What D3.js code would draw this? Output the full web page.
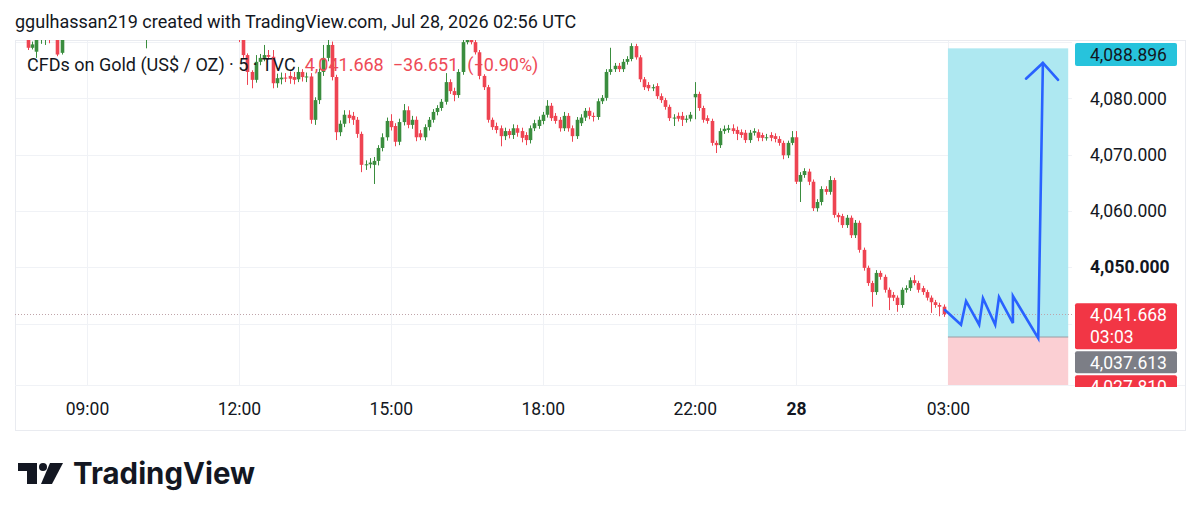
<!DOCTYPE html>
<html>
<head>
<meta charset="utf-8">
<script src="https://cdn.jsdelivr.net/npm/d3@7.9.0/dist/d3.min.js"></script>
<style>
  html, body { margin: 0; padding: 0; background: #ffffff; }
  svg { display: block; font-family: Roboto, 'Noto Sans', sans-serif; }
</style>
</head>
<body>
<svg id="chart" width="1199" height="520"></svg>
<script>
// CFDs on Gold, 5 minute candles, 07:35 -> 02:55 UTC (one hour break 21:00-22:00)
const sessions = [['07:35', 161], ['22:00', 90]]; // start, number of 5m slots (2nd runs into the future)

const opens = [
  4092.4, 4091.8, 4091.3, 4090.9, 4089.0, 4088.3, 4091.2, 4091.5, 4091.9, 4090.8,
  4091.2, 4088.1, 4091.5, 4092.6, 4093.8, 4094.6, 4095.4, 4094.9, 4094.1, 4094.7,
  4096.1, 4096.8, 4096.3, 4095.2, 4094.6, 4093.7, 4094.0, 4093.3, 4092.4, 4092.9,
  4092.0, 4091.4, 4091.8, 4093.1, 4094.2, 4094.9, 4095.7, 4095.3, 4094.8, 4095.5,
  4096.6, 4097.2, 4096.8, 4096.0, 4095.6, 4095.1, 4094.3, 4094.8, 4094.4, 4093.6,
  4093.9, 4093.2, 4092.4, 4092.7, 4090.6, 4087.7, 4084.7, 4083.3, 4086.5, 4087.2,
  4087.7, 4087.4, 4082.7, 4083.4, 4083.7, 4084.0, 4083.8, 4083.4, 4084.7, 4083.8,
  4083.9, 4076.2, 4079.7, 4084.7, 4087.2, 4089.5, 4083.8, 4074.0, 4075.5, 4077.1,
  4076.9, 4076.2, 4073.7, 4068.2, 4068.3, 4068.2, 4068.9, 4071.2, 4073.1, 4076.0,
  4075.1, 4072.3, 4075.8, 4077.9, 4075.3, 4076.2, 4073.8, 4073.1, 4074.9, 4076.2,
  4077.6, 4078.3, 4079.4, 4082.9, 4081.3, 4080.6, 4084.7, 4090.0, 4092.6, 4090.0,
  4088.2, 4084.0, 4082.0, 4076.2, 4075.1, 4074.7, 4073.3, 4074.2, 4073.5, 4074.7,
  4074.2, 4073.5, 4072.6, 4074.7, 4075.1, 4076.0, 4077.1, 4078.7, 4076.9, 4076.2,
  4074.7, 4076.9, 4074.7, 4073.3, 4075.6, 4076.6, 4077.8, 4076.9, 4076.7, 4079.5,
  4080.1, 4084.7, 4085.2, 4085.8, 4085.2, 4086.5, 4087.0, 4089.3, 4087.3, 4083.4,
  4082.4, 4081.8, 4082.2, 4080.4, 4079.7, 4078.5, 4076.5, 4076.9, 4076.9, 4076.2,
  4076.4, 4080.2, 4080.8, 4078.3, 4076.5, 4076.0, 4072.1, 4071.7, 4074.2, 4074.4,
  4074.7, 4074.4, 4074.0, 4073.9, 4072.6, 4073.9, 4074.0, 4073.5, 4073.0, 4073.5,
  4073.3, 4072.8, 4072.1, 4069.9, 4072.1, 4073.1, 4065.2, 4066.4, 4067.0, 4065.2,
  4060.5, 4061.6, 4063.9, 4063.4, 4065.5, 4059.3, 4059.1, 4057.5, 4058.8, 4055.7,
  4057.9, 4053.1, 4049.9, 4047.2, 4045.6, 4049.0, 4048.3, 4046.0, 4045.1, 4044.6,
  4043.3, 4046.0, 4046.3, 4047.7, 4047.2, 4046.3, 4045.6, 4044.6, 4043.8, 4043.3,
  4043.0
];
const highs = [
  4093.6, 4092.9, 4091.9, 4091.4, 4090.1, 4091.6, 4092.0, 4092.4, 4092.6, 4091.7,
  4091.6, 4091.9, 4093.0, 4094.2, 4095.1, 4096.0, 4096.3, 4095.8, 4095.0, 4096.6,
  4097.4, 4097.9, 4096.9, 4095.9, 4095.3, 4094.5, 4094.8, 4093.9, 4093.4, 4093.6,
  4092.8, 4092.3, 4093.5, 4094.6, 4095.3, 4096.2, 4096.6, 4096.0, 4095.9, 4097.0,
  4097.8, 4098.1, 4097.4, 4096.8, 4096.4, 4095.7, 4095.2, 4095.6, 4095.0, 4094.3,
  4094.6, 4093.8, 4093.2, 4093.4, 4090.8, 4088.0, 4085.0, 4087.7, 4087.9, 4089.5,
  4088.6, 4088.6, 4084.4, 4084.6, 4084.5, 4084.8, 4084.7, 4085.6, 4085.2, 4084.6,
  4084.5, 4080.2, 4085.3, 4089.5, 4090.8, 4090.1, 4084.2, 4076.1, 4077.9, 4077.9,
  4077.6, 4076.7, 4074.1, 4069.0, 4069.4, 4069.6, 4071.7, 4073.8, 4076.6, 4077.2,
  4075.6, 4076.4, 4079.0, 4078.6, 4076.9, 4076.8, 4074.4, 4075.4, 4076.7, 4078.1,
  4078.8, 4079.9, 4084.5, 4083.4, 4081.9, 4085.2, 4091.2, 4093.5, 4093.0, 4090.6,
  4088.6, 4084.3, 4082.4, 4076.6, 4075.7, 4075.2, 4074.8, 4074.6, 4075.4, 4075.3,
  4074.8, 4074.0, 4075.2, 4076.2, 4076.8, 4077.6, 4079.7, 4079.2, 4077.4, 4076.7,
  4077.6, 4077.4, 4075.2, 4076.7, 4077.2, 4078.3, 4078.4, 4077.5, 4080.0, 4080.6,
  4085.2, 4089.0, 4086.3, 4086.3, 4087.0, 4087.5, 4089.8, 4089.7, 4087.7, 4083.8,
  4082.9, 4082.5, 4082.7, 4080.9, 4080.1, 4078.9, 4077.2, 4077.5, 4077.6, 4077.0,
  4077.6, 4082.9, 4081.2, 4078.7, 4077.0, 4076.4, 4072.5, 4074.7, 4075.2, 4075.3,
  4075.4, 4075.0, 4074.5, 4074.4, 4074.4, 4074.7, 4074.5, 4073.9, 4073.7, 4074.0,
  4073.8, 4073.3, 4072.5, 4072.5, 4074.2, 4074.2, 4066.9, 4067.6, 4067.5, 4065.6,
  4062.1, 4064.4, 4064.4, 4066.2, 4065.9, 4059.7, 4059.5, 4059.3, 4059.2, 4058.4,
  4058.3, 4053.5, 4050.3, 4047.6, 4049.5, 4049.4, 4048.7, 4046.4, 4045.6, 4045.0,
  4046.4, 4046.8, 4048.2, 4048.6, 4047.6, 4046.7, 4046.0, 4045.0, 4044.2, 4043.7,
  4043.4
];
const lows = [
  4091.2, 4090.9, 4090.4, 4088.6, 4088.7, 4087.2, 4089.7, 4089.5, 4089.8, 4090.4,
  4087.5, 4087.8, 4091.0, 4092.1, 4093.2, 4094.0, 4094.5, 4093.6, 4093.3, 4094.3,
  4095.6, 4095.9, 4094.8, 4094.1, 4093.2, 4092.6, 4092.9, 4091.8, 4091.7, 4091.6,
  4090.9, 4088.9, 4091.3, 4092.7, 4093.6, 4094.4, 4094.9, 4094.3, 4094.2, 4095.0,
  4096.0, 4096.3, 4095.6, 4095.1, 4094.6, 4093.9, 4093.6, 4094.0, 4093.2, 4092.8,
  4092.9, 4091.9, 4091.6, 4090.0, 4087.2, 4082.4, 4081.8, 4082.8, 4085.9, 4086.6,
  4086.9, 4081.8, 4081.9, 4082.5, 4082.9, 4082.6, 4082.5, 4082.9, 4083.0, 4082.9,
  4075.5, 4075.3, 4079.0, 4084.0, 4086.6, 4083.2, 4072.6, 4073.3, 4074.9, 4075.6,
  4075.3, 4073.0, 4066.9, 4067.3, 4067.6, 4064.8, 4068.1, 4070.6, 4072.5, 4074.3,
  4071.5, 4071.7, 4075.2, 4074.7, 4074.6, 4072.4, 4072.6, 4072.5, 4074.3, 4075.7,
  4077.0, 4077.8, 4078.9, 4080.8, 4079.5, 4080.1, 4084.2, 4089.6, 4089.6, 4087.8,
  4083.4, 4081.5, 4075.7, 4074.4, 4073.8, 4071.5, 4072.6, 4072.9, 4072.8, 4073.2,
  4072.2, 4071.7, 4072.0, 4074.2, 4074.6, 4075.4, 4076.6, 4076.0, 4075.5, 4074.1,
  4074.2, 4074.1, 4072.3, 4072.8, 4075.1, 4076.0, 4076.3, 4075.9, 4076.2, 4079.0,
  4079.6, 4084.2, 4084.7, 4084.7, 4084.7, 4086.0, 4086.6, 4086.9, 4082.9, 4081.5,
  4081.3, 4081.3, 4079.9, 4079.2, 4078.0, 4076.0, 4075.1, 4075.9, 4075.1, 4075.7,
  4075.9, 4076.3, 4077.8, 4075.7, 4075.5, 4071.6, 4070.3, 4071.2, 4073.7, 4073.9,
  4073.7, 4072.6, 4073.0, 4072.1, 4072.1, 4073.4, 4072.4, 4072.4, 4072.5, 4072.4,
  4072.2, 4071.6, 4069.2, 4069.4, 4071.7, 4064.8, 4061.6, 4065.9, 4064.6, 4060.0,
  4059.9, 4061.0, 4062.9, 4062.9, 4058.8, 4058.0, 4057.0, 4057.0, 4055.2, 4055.2,
  4052.6, 4049.4, 4046.7, 4043.0, 4045.1, 4047.8, 4045.5, 4042.4, 4044.0, 4042.1,
  4042.8, 4045.5, 4045.8, 4046.8, 4045.5, 4045.1, 4044.1, 4041.9, 4042.8, 4041.3,
  4041.2
];
const closes = [
  4091.8, 4091.3, 4090.9, 4089.0, 4089.6, 4091.2, 4091.5, 4091.9, 4090.8, 4091.2,
  4087.8, 4091.5, 4092.6, 4093.8, 4094.6, 4095.4, 4094.9, 4094.1, 4094.7, 4096.1,
  4096.8, 4096.3, 4095.2, 4094.6, 4093.7, 4094.0, 4093.3, 4092.4, 4092.9, 4092.0,
  4091.4, 4091.8, 4093.1, 4094.2, 4094.9, 4095.7, 4095.3, 4094.8, 4095.5, 4096.6,
  4097.2, 4096.8, 4096.0, 4095.6, 4095.1, 4094.3, 4094.8, 4094.4, 4093.6, 4093.9,
  4093.2, 4092.4, 4092.7, 4090.6, 4087.7, 4084.7, 4083.3, 4086.5, 4087.2, 4087.7,
  4087.4, 4082.7, 4083.6, 4083.7, 4083.6, 4083.5, 4083.3, 4084.7, 4083.8, 4083.9,
  4076.2, 4079.7, 4084.7, 4087.2, 4089.5, 4083.8, 4074.0, 4075.5, 4077.1, 4076.5,
  4076.2, 4073.7, 4068.2, 4068.3, 4068.6, 4068.9, 4071.2, 4073.1, 4076.0, 4074.9,
  4072.3, 4075.8, 4077.9, 4075.3, 4076.2, 4073.1, 4073.1, 4074.9, 4076.2, 4077.6,
  4078.3, 4079.4, 4082.9, 4081.3, 4080.6, 4084.7, 4090.0, 4092.6, 4090.0, 4088.2,
  4084.0, 4082.0, 4076.2, 4074.9, 4074.4, 4073.3, 4074.2, 4073.5, 4074.7, 4073.9,
  4073.0, 4072.6, 4074.7, 4075.6, 4076.2, 4077.1, 4078.7, 4076.5, 4076.0, 4074.7,
  4076.9, 4074.7, 4073.3, 4076.2, 4076.6, 4077.8, 4076.9, 4076.7, 4079.5, 4080.1,
  4084.7, 4085.2, 4085.8, 4085.2, 4086.5, 4087.0, 4089.3, 4087.3, 4083.4, 4082.0,
  4081.8, 4082.0, 4080.4, 4079.7, 4078.5, 4076.5, 4076.6, 4076.4, 4076.2, 4076.4,
  4077.1, 4080.8, 4078.3, 4076.2, 4076.0, 4072.1, 4071.7, 4074.2, 4074.6, 4074.7,
  4074.2, 4073.7, 4073.5, 4072.6, 4073.9, 4074.2, 4073.0, 4073.0, 4073.1, 4073.0,
  4072.8, 4072.1, 4069.9, 4072.1, 4073.1, 4065.2, 4066.4, 4067.1, 4065.2, 4060.5,
  4061.6, 4063.9, 4063.4, 4065.5, 4059.3, 4058.9, 4057.5, 4058.8, 4055.7, 4057.9,
  4053.1, 4049.9, 4047.2, 4045.6, 4049.0, 4048.3, 4046.0, 4044.6, 4044.6, 4043.3,
  4046.0, 4046.3, 4047.7, 4047.2, 4046.0, 4045.6, 4044.6, 4043.8, 4043.3, 4043.0,
  4041.668
];

const priceGrid = [4090, 4080, 4070, 4060, 4050, 4040];
const priceLabels = [4080, 4070, 4060, 4050];
const tickTimes = ['09:00', '12:00', '15:00', '18:00', '22:00', '00:00', '03:00'];
const tickLabels = ['09:00', '12:00', '15:00', '18:00', '22:00', '28', '03:00'];

const lastPrice = 4041.668;
const change = -36.651;
const changePct = -0.90;
const countdown = '03:03';

// long position tool
const entry = 4037.613, target = 4088.896, stop = 4027.810;
const positionBars = [221, 249.5];
// hand drawn forecast, [bar, price]
const forecast = [[220.3, 4042.4], [224.1, 4039.8], [225.3, 4044.0], [228.4, 4039.8], [229.3, 4044.5],
  [232.2, 4039.8], [233.1, 4044.7], [236.4, 4040.1], [236.4, 4044.9], [242.4, 4037.4], [243.5, 4086.3]];
const arrowHead = [[239.5, 4083.5], [243.5, 4086.3], [247.1, 4083.3]];

// ---------------------------------------------------------------
const pane = { left: 15, right: 1072, top: 40, bottom: 385 };
const frame = { right: 1185, bottom: 430 };
const upColor = '#3a8d3e', downColor = '#ee4452';
const textColor = '#131722';

const svg = d3.select('#chart');

const x = d3.scaleLinear().domain([-0.06, 250.4]).range([pane.left, pane.right]);
const y = d3.scaleLinear().domain([4029.09, 4090.38]).range([pane.bottom, pane.top]);

// time of every 5m slot
const pad2 = d3.format('02');
const slotTimes = [];
sessions.forEach(([start, n]) => {
  const [h, m] = start.split(':').map(Number);
  for (let k = 0; k < n; k++) {
    const t = (h * 60 + m + 5 * k) % 1440;
    slotTimes.push(pad2(Math.floor(t / 60)) + ':' + pad2(t % 60));
  }
});
const tickIdx = tickTimes.map(t => slotTimes.indexOf(t));

const candles = opens.map((o, i) => ({
  i, time: slotTimes[i], o, h: highs[i], l: lows[i], c: closes[i]
}));

// header
svg.append('text')
  .attr('x', 15).attr('y', 28)
  .attr('font-size', 18).attr('fill', textColor)
  .text('ggulhassan219 created with TradingView.com, Jul 28, 2026 02:56 UTC');

// clip paths
const defs = svg.append('defs');
defs.append('clipPath').attr('id', 'pane-clip')
  .append('rect')
    .attr('x', pane.left).attr('y', pane.top)
    .attr('width', pane.right - pane.left).attr('height', pane.bottom - pane.top);
defs.append('clipPath').attr('id', 'axis-clip')
  .append('rect')
    .attr('x', pane.right).attr('y', pane.top)
    .attr('width', frame.right - pane.right).attr('height', pane.bottom - pane.top + 2);

// grid
const grid = svg.append('g').attr('stroke', '#f0f2f6').attr('stroke-width', 1);
grid.selectAll('line.h').data(priceGrid).join('line')
  .attr('x1', pane.left).attr('x2', pane.right)
  .attr('y1', d => Math.round(y(d)) + 0.5).attr('y2', d => Math.round(y(d)) + 0.5);
grid.selectAll('line.v').data(tickIdx).join('line')
  .attr('y1', pane.top).attr('y2', pane.bottom)
  .attr('x1', d => Math.round(x(d)) + 0.5).attr('x2', d => Math.round(x(d)) + 0.5);

// frame
svg.append('rect')
  .attr('x', pane.left + 0.5).attr('y', pane.top + 0.5)
  .attr('width', frame.right - pane.left).attr('height', frame.bottom - pane.top)
  .attr('fill', 'none').attr('stroke', '#e9ebf0');
svg.append('line')
  .attr('x1', pane.left).attr('x2', frame.right)
  .attr('y1', pane.bottom + 0.5).attr('y2', pane.bottom + 0.5)
  .attr('stroke', '#f0f2f6');

const plot = svg.append('g').attr('clip-path', 'url(#pane-clip)');

// position tool
const px0 = x(positionBars[0]), px1 = x(positionBars[1]);
plot.append('rect')
  .attr('x', px0).attr('width', px1 - px0)
  .attr('y', y(target)).attr('height', y(entry) - y(target))
  .attr('fill', '#aee8f1');
plot.append('rect')
  .attr('x', px0).attr('width', px1 - px0)
  .attr('y', y(entry)).attr('height', y(stop) - y(entry))
  .attr('fill', '#fbcfd3');
plot.append('line')
  .attr('x1', px0).attr('x2', px1)
  .attr('y1', y(entry)).attr('y2', y(entry))
  .attr('stroke', '#9a9ca3').attr('stroke-width', 1);

// last price line
plot.append('line')
  .attr('x1', pane.left).attr('x2', pane.right)
  .attr('y1', Math.round(y(lastPrice)) + 0.5).attr('y2', Math.round(y(lastPrice)) + 0.5)
  .attr('stroke', '#bfa4aa').attr('stroke-dasharray', '1,2');

// candles
const candle = plot.selectAll('g.candle').data(candles).join('g')
  .attr('class', 'candle')
  .attr('fill', d => d.c >= d.o ? upColor : downColor)
  .attr('stroke', d => d.c >= d.o ? upColor : downColor);
candle.append('line')
  .attr('x1', d => Math.round(x(d.i)) + 0.5).attr('x2', d => Math.round(x(d.i)) + 0.5)
  .attr('y1', d => y(d.h)).attr('y2', d => y(d.l))
  .attr('stroke-width', 1);
candle.append('rect')
  .attr('stroke', 'none')
  .attr('x', d => Math.round(x(d.i)) + 0.5 - 1.8).attr('width', 3.6)
  .attr('y', d => y(Math.max(d.o, d.c)))
  .attr('height', d => Math.max(1, Math.abs(y(d.o) - y(d.c))));

// forecast drawing
const line = d3.line().x(d => x(d[0])).y(d => y(d[1]));
plot.append('path').datum(forecast)
  .attr('d', line).attr('fill', 'none')
  .attr('stroke', '#2962ff').attr('stroke-width', 2.6)
  .attr('stroke-linejoin', 'miter').attr('stroke-linecap', 'round');
plot.append('path').datum(arrowHead)
  .attr('d', line).attr('fill', 'none')
  .attr('stroke', '#2962ff').attr('stroke-width', 2.6)
  .attr('stroke-linejoin', 'miter').attr('stroke-linecap', 'round');

// legend
const fmt = d3.format(',.3f');
const legend = svg.append('text')
  .attr('x', 27).attr('y', 71).attr('font-size', 18);
legend.append('tspan').attr('fill', textColor).text('CFDs on Gold (US$ / OZ) · 5 · TVC');
legend.append('tspan').attr('fill', '#ee4a57').attr('dx', 9).text(fmt(lastPrice));
legend.append('tspan').attr('fill', '#ee4a57').attr('dx', 9).text(d3.format('.3f')(change).replace('-', '−'));
legend.append('tspan').attr('fill', '#ee4a57').attr('dx', 9)
  .text('(' + d3.format('.2f')(changePct).replace('-', '−') + '%)');

// time axis
svg.append('g')
  .attr('transform', `translate(0,${pane.bottom})`)
  .call(d3.axisBottom(x)
    .tickValues(tickIdx)
    .tickFormat(d => tickLabels[tickIdx.indexOf(d)])
    .tickSize(0).tickPadding(18))
  .call(g => g.select('.domain').remove())
  .attr('font-family', null).attr('font-size', 17.5)
  .selectAll('text')
    .attr('fill', textColor)
    .attr('font-weight', d => tickLabels[tickIdx.indexOf(d)] === '28' ? 700 : 400);

// price axis
svg.append('g')
  .attr('transform', `translate(${pane.right},0)`)
  .call(d3.axisRight(y)
    .tickValues(priceLabels)
    .tickFormat(fmt)
    .tickSize(0).tickPadding(18))
  .call(g => g.select('.domain').remove())
  .attr('font-family', null).attr('font-size', 17.5)
  .selectAll('text')
    .attr('fill', textColor)
    .attr('font-weight', d => d === 4050 ? 700 : 400);

// price labels on the axis
const labels = svg.append('g').attr('clip-path', 'url(#axis-clip)').attr('font-size', 17.5);
const boxX = pane.right + 3, boxW = 102, textX = pane.right + 18;
function priceBox(top, h, fill, color, lines) {
  labels.append('rect')
    .attr('x', boxX).attr('y', top).attr('width', boxW).attr('height', h)
    .attr('rx', 2).attr('fill', fill);
  lines.forEach((t, k) => {
    labels.append('text')
      .attr('x', textX).attr('y', top + 17.5 + k * 22)
      .attr('fill', color).text(t);
  });
}
const targetTop = Math.max(pane.top + 3, y(target) - 11.5);
priceBox(targetTop, 23, '#27c3dc', textColor, [fmt(target)]);
const lastTop = y(lastPrice) - 11;
priceBox(lastTop, 46, '#f23645', '#ffffff', [fmt(lastPrice), countdown]);
const entryTop = Math.max(y(entry) - 11, lastTop + 48);
priceBox(entryTop, 22, '#7c7e86', '#ffffff', [fmt(entry)]);
const stopTop = Math.max(Math.min(y(stop) - 11, pane.bottom - 10), entryTop + 24);
priceBox(stopTop, 22, '#f23645', '#ffffff', [fmt(stop)]);

// TradingView logo
const logo = svg.append('g').attr('fill', textColor);
logo.append('path').attr('d', 'M18 463H37V484H27V471H18Z');
logo.append('circle').attr('cx', 43).attr('cy', 467).attr('r', 4);
logo.append('path').attr('d', 'M50 463H63L52 484H41Z');
logo.append('text')
  .attr('x', 73).attr('y', 484)
  .attr('font-family', 'Inter, Roboto, sans-serif')
  .attr('font-size', 30).attr('font-weight', 700)
  .attr('textLength', 182).attr('lengthAdjust', 'spacingAndGlyphs')
  .text('TradingView');
</script>
</body>
</html>
